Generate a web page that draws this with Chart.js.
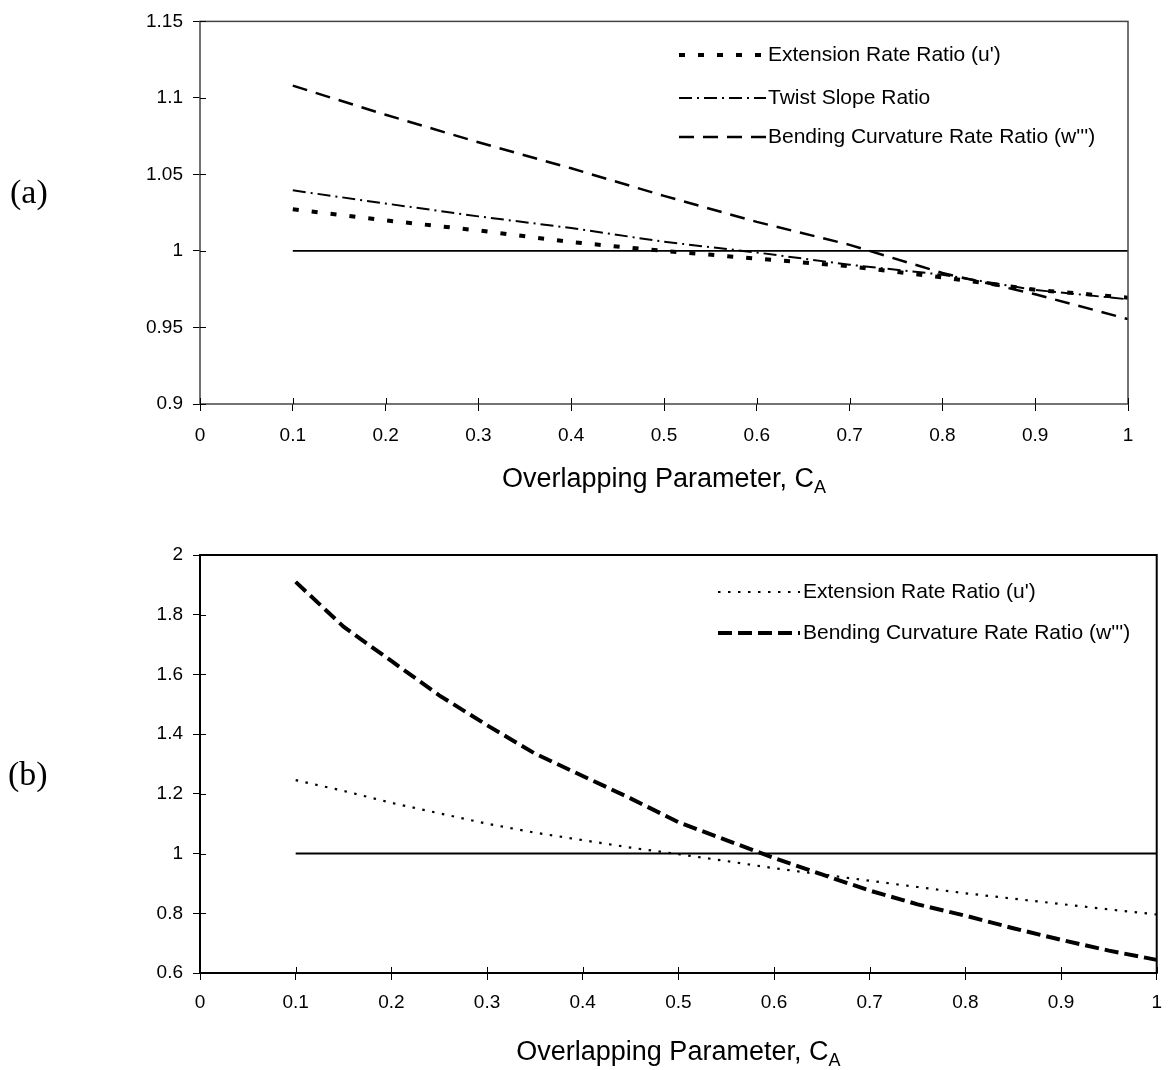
<!DOCTYPE html>
<html>
<head>
<meta charset="utf-8">
<script src="https://cdn.jsdelivr.net/npm/chart.js@4.4.0/dist/chart.umd.min.js"></script>
<style>
    body { margin: 0; background: #fff; width: 1173px; height: 1070px; position: relative; overflow: hidden; }
    .panel { position: absolute; left: 0; width: 1173px; }
    #wrap-a { top: 0; height: 520px; }
    #wrap-b { top: 520px; height: 550px; }
    .tag { position: absolute; font-family: "Liberation Serif", "Times New Roman", serif; font-size: 34px; color: #000; line-height: 1; }
</style>
</head>
<body>
<div class="panel" id="wrap-a"><canvas id="chart-a"></canvas></div>
<div class="panel" id="wrap-b"><canvas id="chart-b"></canvas></div>
<div class="tag" style="left:10px; top:175px;">(a)</div>
<div class="tag" style="left:8px; top:757px;">(b)</div>

<script>
const FONT = '"Liberation Sans", Arial, sans-serif';

// x ticks shared by both panels
const xTicks = [0, 0.1, 0.2, 0.3, 0.4, 0.5, 0.6, 0.7, 0.8, 0.9, 1];

// (a)
const yTicksA = [0.9, 0.95, 1, 1.05, 1.1, 1.15];
const caA = [0.1, 0.2, 0.3, 0.4, 0.5, 0.6, 0.7, 0.8, 0.9, 1.0];
const extensionA = [1.0273, 1.0200, 1.0134, 1.0058, 1.0000, 0.9950, 0.9900, 0.9827, 0.9746, 0.9695];
const twistA = [1.0396, 1.0310, 1.0226, 1.0150, 1.0060, 0.9990, 0.9910, 0.9845, 0.9745, 0.9684];
const bendingA = [1.1080, 1.0890, 1.0710, 1.0540, 1.0360, 1.0190, 1.0040, 0.9856, 0.9717, 0.9555];

// (b)
const yTicksB = [0.6, 0.8, 1, 1.2, 1.4, 1.6, 1.8, 2];
const caB = [0.1, 0.15, 0.2, 0.25, 0.3, 0.35, 0.4, 0.45, 0.5, 0.55, 0.6, 0.65, 0.7, 0.75, 0.8, 0.85, 0.9, 0.95, 1.0];
const extensionB = [1.246, 1.210, 1.170, 1.135, 1.100, 1.070, 1.045, 1.020, 0.998, 0.975, 0.951, 0.930, 0.909, 0.888, 0.867, 0.849, 0.831, 0.813, 0.796];
const bendingB = [1.910, 1.760, 1.645, 1.530, 1.430, 1.335, 1.260, 1.185, 1.105, 1.045, 0.985, 0.930, 0.876, 0.830, 0.792, 0.750, 0.711, 0.675, 0.644];

// reference line at ratio = 1
const refX = [0.1, 1.0];
const refY = [1, 1];

function toPoints(xs, ys) {
    return xs.map((x, i) => ({ x: x, y: ys[i] }));
}

function fmt(v) {
    return String(Number(v.toFixed(2)));
}

const framePlugin = {
    id: 'frame',
    afterDraw(chart, args, opts) {
        const ctx = chart.ctx;
        const a = chart.chartArea;
        const sx = chart.scales.x;
        const sy = chart.scales.y;
        ctx.save();

        // plot frame
        ctx.strokeStyle = opts.color;
        ctx.lineWidth = opts.width;
        ctx.strokeRect(a.left, a.top, a.right - a.left, a.bottom - a.top);

        // tick marks pointing into the plot
        ctx.strokeStyle = '#000';
        ctx.lineWidth = 1;
        ctx.beginPath();
        sx.ticks.forEach(t => {
            const px = Math.round(sx.getPixelForValue(t.value)) + 0.5;
            ctx.moveTo(px, a.bottom);
            ctx.lineTo(px, a.bottom - 6);
        });
        sy.ticks.forEach(t => {
            const py = Math.round(sy.getPixelForValue(t.value)) + 0.5;
            ctx.moveTo(a.left, py);
            ctx.lineTo(a.left + 6, py);
        });
        ctx.stroke();

        // legend inside the plot
        const lg = opts.legend;
        ctx.font = '21px ' + FONT;
        ctx.textBaseline = 'middle';
        ctx.fillStyle = '#000';
        lg.items.forEach((idx, i) => {
            const ds = chart.data.datasets[idx];
            const y = lg.rows[i];
            ctx.beginPath();
            ctx.setLineDash(ds.borderDash || []);
            ctx.lineWidth = ds.borderWidth;
            ctx.strokeStyle = ds.borderColor;
            ctx.moveTo(lg.x0, y);
            ctx.lineTo(lg.x1, y);
            ctx.stroke();
            ctx.setLineDash([]);
            ctx.fillText(ds.label, lg.tx, y);
        });

        // x axis title with subscript
        const main = 'Overlapping Parameter, C';
        const sub = 'A';
        ctx.textBaseline = 'alphabetic';
        ctx.font = '27px ' + FONT;
        const wm = ctx.measureText(main).width;
        ctx.font = '18px ' + FONT;
        const ws = ctx.measureText(sub).width;
        const x0 = (a.left + a.right) / 2 - (wm + ws) / 2;
        ctx.font = '27px ' + FONT;
        ctx.fillText(main, x0, opts.titleY);
        ctx.font = '18px ' + FONT;
        ctx.fillText(sub, x0 + wm, opts.titleY + 6);

        ctx.restore();
    }
};

function makeScales(yMin, yMax, yTicks, xHeight, xPad) {
    return {
        x: {
            type: 'linear',
            min: 0,
            max: 1,
            afterBuildTicks: s => { s.ticks = xTicks.map(v => ({ value: v })); },
            afterFit: s => { s.height = xHeight; },
            ticks: { callback: v => fmt(v), color: '#000', font: { size: 19, family: FONT }, padding: xPad, maxRotation: 0, autoSkip: false },
            grid: { drawOnChartArea: false, drawTicks: true, tickLength: 7, color: '#000', lineWidth: 1 },
            border: { display: false }
        },
        y: {
            type: 'linear',
            min: yMin,
            max: yMax,
            afterBuildTicks: s => { s.ticks = yTicks.map(v => ({ value: v })); },
            afterFit: s => { s.width = 200; },
            ticks: { callback: v => fmt(v), color: '#000', font: { size: 19, family: FONT }, padding: 10, autoSkip: false },
            grid: { drawOnChartArea: false, drawTicks: true, tickLength: 7, color: '#000', lineWidth: 1 },
            border: { display: false }
        }
    };
}

function lineSet(label, xs, ys, width, dash) {
    return {
        label: label,
        data: toPoints(xs, ys),
        showLine: true,
        borderColor: '#000',
        backgroundColor: '#000',
        borderWidth: width,
        borderDash: dash,
        pointRadius: 0,
        tension: 0,
        fill: false
    };
}

new Chart(document.getElementById('chart-a'), {
    type: 'scatter',
    data: {
        datasets: [
            lineSet('', refX, refY, 1.8, []),
            lineSet("Extension Rate Ratio (u')", caA, extensionA, 4, [6, 13]),
            lineSet('Twist Slope Ratio', caA, twistA, 2, [13, 5, 2, 5]),
            lineSet("Bending Curvature Rate Ratio (w''')", caA, bendingA, 2.5, [15, 9])
        ]
    },
    options: {
        responsive: true,
        maintainAspectRatio: false,
        animation: false,
        layout: { padding: { top: 17, right: 45, left: 0, bottom: 0 } },
        scales: makeScales(0.9, 1.15, yTicksA, 116, 13),
        plugins: {
            legend: { display: false },
            tooltip: { enabled: false },
            frame: {
                color: '#444',
                width: 1.5,
                titleY: 487,
                legend: { x0: 679, x1: 766, tx: 768, rows: [55, 98, 137], items: [1, 2, 3] }
            }
        }
    },
    plugins: [framePlugin]
});

new Chart(document.getElementById('chart-b'), {
    type: 'scatter',
    data: {
        datasets: [
            lineSet('', refX, refY, 2, []),
            lineSet("Extension Rate Ratio (u')", caB, extensionB, 2.2, [2.5, 7.5]),
            lineSet("Bending Curvature Rate Ratio (w''')", caB, bendingB, 4, [14, 6])
        ]
    },
    options: {
        responsive: true,
        maintainAspectRatio: false,
        animation: false,
        layout: { padding: { top: 35, right: 7, left: 0, bottom: 0 } },
        scales: makeScales(0.6, 2, yTicksB, 97, 11),
        plugins: {
            legend: { display: false },
            tooltip: { enabled: false },
            frame: {
                color: '#000',
                width: 2,
                titleY: 540,
                legend: { x0: 718, x1: 800, tx: 803, rows: [72, 113], items: [1, 2] }
            }
        }
    },
    plugins: [framePlugin]
});
</script>
</body>
</html>
